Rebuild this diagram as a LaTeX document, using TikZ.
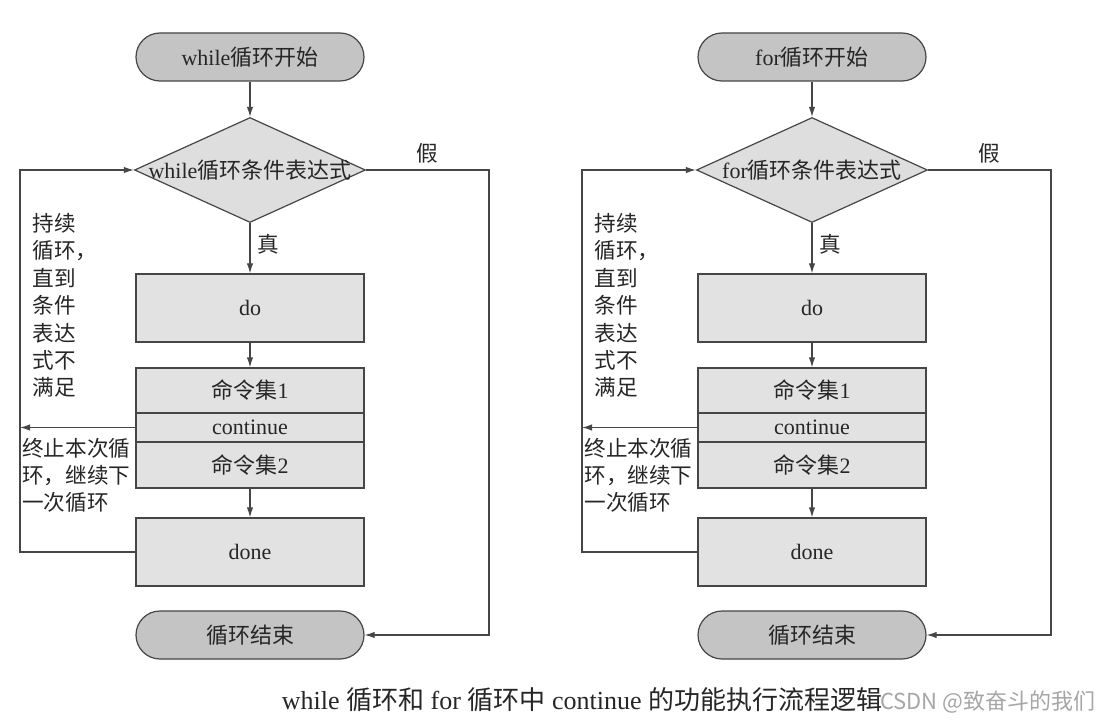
\documentclass[tikz,border=0pt]{standalone}
\usepackage{fontspec}
\setmainfont{Liberation Serif}
\newfontfamily\cjk{Noto Sans CJK SC}
\usetikzlibrary{shapes.geometric,shapes.misc,arrows.meta}
\newcommand\zh[1]{{\cjk #1}}
\definecolor{lncol}{RGB}{70,70,70}
\definecolor{termfill}{RGB}{196,196,196}
\definecolor{boxfill}{RGB}{226,226,226}
\definecolor{diafill}{RGB}{222,222,222}
\tikzset{
  txt/.style={font=\fontsize{11}{12}\selectfont, text=black!85},
  term/.style={rounded rectangle, draw=lncol, line width=0.6pt, fill=termfill, minimum width=114pt, minimum height=24pt, inner sep=0pt, txt},
  dia/.style={diamond, draw=lncol, line width=0.6pt, fill=diafill, minimum width=115.5pt, minimum height=52.5pt, inner sep=0pt},
  stepbox/.style={rectangle, draw=lncol, line width=0.6pt, fill=boxfill, minimum width=114pt, inner sep=0pt, txt},
  wire/.style={draw=lncol, line width=0.6pt},
  arr/.style={wire, -{Latex[length=5pt,width=3.2pt]}},
  lab/.style={font=\cjk\fontsize{10.8}{13.7}\selectfont, text=black!85, inner sep=0pt, align=left},
}
\begin{document}
\begin{tikzpicture}[x=0.5pt,y=-0.5pt]
\fill[white] (0,0) rectangle (1099,722);
\useasboundingbox (0,0) rectangle (1099,722);
\foreach \ox/\s/\kw in {0/1/while, 562/2/for}{
  \node[term] (start\s) at (250+\ox,57) {\kw\zh{循环开始}};
  \node[dia] (dia\s) at (250+\ox,170) {};
  \node[txt, inner sep=0pt] (diat\s) at (dia\s) {\kw\zh{循环条件表达式}};
  \node[stepbox, minimum height=34pt] (do\s) at (250+\ox,308) {do};
  \node[stepbox, minimum height=22.5pt] (ca\s) at (250+\ox,390.5) {\zh{命令集}1};
  \node[stepbox, minimum height=14.5pt] (cont\s) at (250+\ox,427.5) {continue};
  \node[stepbox, minimum height=23pt] (cb\s) at (250+\ox,465) {\zh{命令集}2};
  \node[stepbox, minimum height=34pt] (done\s) at (250+\ox,552) {done};
  \node[term] (end\s) at (250+\ox,635) {\zh{循环结束}};
  \coordinate (loop\s) at (20+\ox,552);
  \coordinate (fx\s) at (489+\ox,170);
  \draw[arr] (start\s.south) -- (dia\s.north);
  \draw[arr] (dia\s.south) -- (do\s.north);
  \draw[arr] (do\s.south) -- (ca\s.north);
  \draw[arr] (cb\s.south) -- (done\s.north);
  \draw[arr] (dia\s.east) -- (fx\s) |- (end\s.east);
  \draw[arr] (cont\s.west) -- (cont\s.west -| loop\s);
  \draw[arr] (done\s.west) -- (loop\s) |- (dia\s.west);
  \node[lab] (true\s) at (268+\ox,244) {真};
  \node[lab] (false\s) at (427+\ox,153) {假};
  \node[lab, anchor=north west] (keep\s) at (32+\ox,213) {持续\\循环，\\直到\\条件\\表达\\式不\\满足};
  \node[lab, anchor=north west, font=\cjk\fontsize{10.8}{13.5}\selectfont] (skip\s) at (22+\ox,438) {终止本次循\\环，继续下\\一次循环};
}
\node[font=\fontsize{13}{14}\selectfont, text=black!85] (cap) at (582,700) {while \zh{循环和} for \zh{循环中} continue \zh{的功能执行流程逻辑}};
\node[anchor=east, inner sep=0pt, text=black!35, font=\cjk\fontsize{11}{12}\selectfont] (wm) at (1096,702) {CSDN @致奋斗的我们};
\end{tikzpicture}
\end{document}
